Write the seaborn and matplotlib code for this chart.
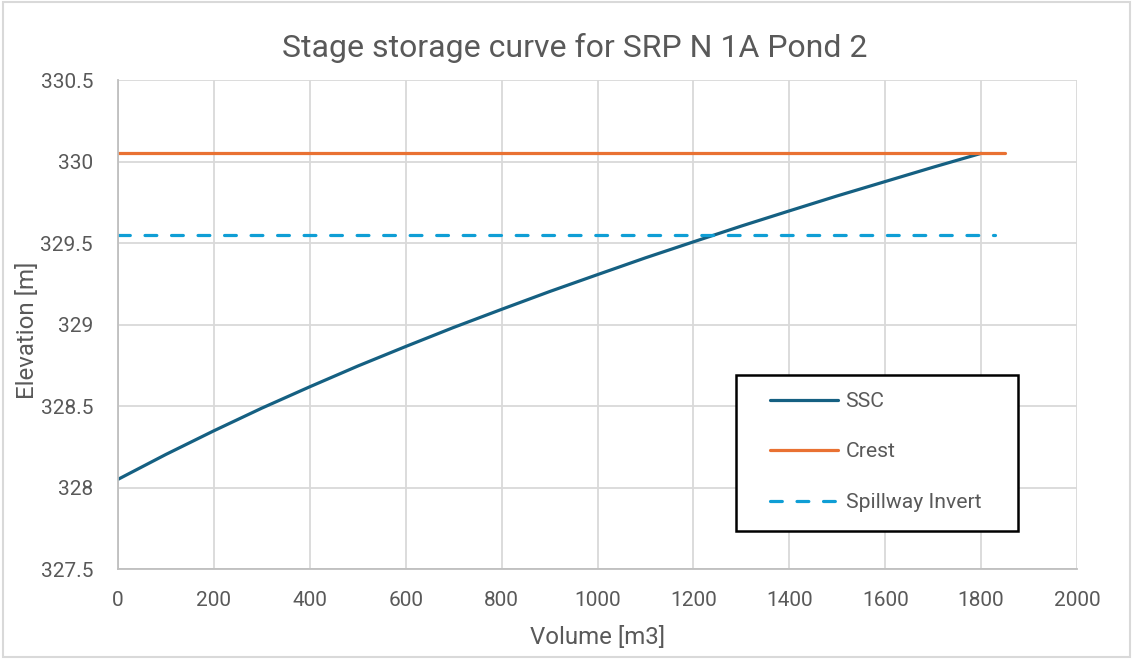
import matplotlib
matplotlib.use("Agg")
import matplotlib.pyplot as plt
import seaborn as sns
import pandas as pd
from matplotlib.patches import Rectangle

# Stage-storage data
ssc_volume = [0, 100, 200, 300, 400, 500, 600, 700, 800, 900,
              1000, 1100, 1200, 1300, 1400, 1500, 1600, 1700, 1800]
ssc_elevation = [328.05, 328.203, 328.348, 328.487, 328.618, 328.745, 328.865, 328.982, 329.093, 329.202,
                 329.306, 329.409, 329.507, 329.604, 329.697, 329.789, 329.877, 329.965, 330.05]

crest_volume = [0, 1850]
crest_elevation = [330.05, 330.05]

spillway_volume = [0, 1830]
spillway_elevation = [329.55, 329.55]

x_ticks = [0, 200, 400, 600, 800, 1000, 1200, 1400, 1600, 1800, 2000]
y_ticks = [327.5, 328, 328.5, 329, 329.5, 330, 330.5]

title = "Stage storage curve for SRP N 1A Pond 2"
x_label = "Volume [m3]"
y_label = "Elevation [m]"

sns.set_theme(style="white")
plt.rcParams["font.family"] = ["Roboto", "DejaVu Sans"]

text_color = "#595959"
grid_color = "#d9d9d9"
W, H = 1133, 659

fig = plt.figure(figsize=(W / 100, H / 100), dpi=100)
ax = fig.add_axes([118 / W, 1 - 569 / H, (1077 - 118) / W, (569 - 80) / H])

df_ssc = pd.DataFrame({"Volume": ssc_volume, "Elevation": ssc_elevation})
df_crest = pd.DataFrame({"Volume": crest_volume, "Elevation": crest_elevation})
df_spill = pd.DataFrame({"Volume": spillway_volume, "Elevation": spillway_elevation})

sns.lineplot(data=df_ssc, x="Volume", y="Elevation", ax=ax, color="#156082",
             linewidth=2.3, label="SSC", sort=False, solid_capstyle="round",
             solid_joinstyle="round")
sns.lineplot(data=df_crest, x="Volume", y="Elevation", ax=ax, color="#E97132",
             linewidth=2.3, label="Crest", solid_capstyle="round")
sns.lineplot(data=df_spill, x="Volume", y="Elevation", ax=ax, color="#0F9ED5",
             linewidth=2.3, label="Spillway Invert")
ax.lines[-1].set_linestyle((0, (3.7, 4.6)))
ax.lines[-1].set_dash_capstyle("round")

ax.set_xlim(0, 2000)
ax.set_ylim(327.5, 330.5)
ax.set_xticks(x_ticks)
ax.set_yticks(y_ticks)
ax.set_xticklabels([f"{v:g}" for v in x_ticks])
ax.set_yticklabels([f"{v:g}" for v in y_ticks])
ax.tick_params(axis="both", length=0, labelsize=15, labelcolor=text_color)
ax.tick_params(axis="x", pad=16)
ax.tick_params(axis="y", pad=18)

ax.grid(True, color=grid_color, linewidth=1.3)
ax.set_axisbelow(True)
for side in ["top", "right"]:
    ax.spines[side].set_visible(False)
for side in ["left", "bottom"]:
    ax.spines[side].set_color("#bfbfbf")
    ax.spines[side].set_linewidth(1.3)

ax.set_xlabel(x_label, fontsize=17.3, color=text_color)
ax.set_ylabel(y_label, fontsize=17.3, color=text_color)
ax.xaxis.label.set_va("center")
ax.yaxis.label.set_va("center")
ax.xaxis.set_label_coords(0.5, -(637 - 569) / 489)
ax.yaxis.set_label_coords(-(118 - 27) / 959, (569 - 330) / 489)

fig.text(575 / W, 1 - 48 / H, title, ha="center", va="center",
         fontsize=23, color=text_color)

# Legend box with white fill, drawn above the plotted lines
box = Rectangle((736 / W, 1 - 531 / H), (1018 - 736) / W, (531 - 375) / H,
                transform=fig.transFigure, facecolor="white", edgecolor="black",
                linewidth=1.8, zorder=4.5, clip_on=False)
ax.add_patch(box)

leg = ax.legend(loc="upper left", bbox_to_anchor=(770 / W, 1 - 392 / H),
                bbox_transform=fig.transFigure, frameon=False, fontsize=15.2,
                labelcolor=text_color, handlelength=3.2, handletextpad=0.38,
                borderpad=0, labelspacing=1.49, borderaxespad=0)
leg.set_zorder(5)

# Chart area border
fig.patches.append(Rectangle((0.003, 0.003), 0.994, 0.994, transform=fig.transFigure,
                             fill=False, edgecolor="#d9d9d9", linewidth=1.5))

fig.savefig("out.png", dpi=100)
